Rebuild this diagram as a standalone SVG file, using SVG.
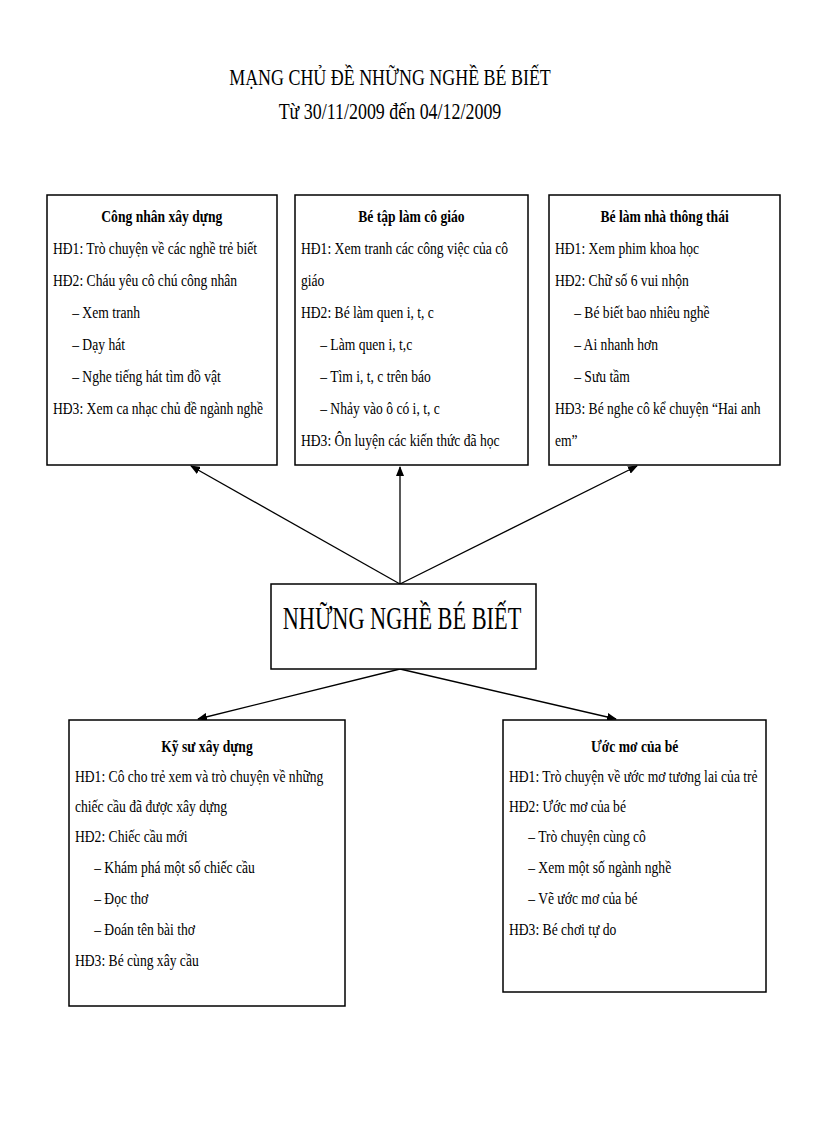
<svg xmlns="http://www.w3.org/2000/svg" width="816" height="1123" viewBox="0 0 816 1123">
<style>
text{font-family:"Liberation Serif","Times New Roman",serif;font-size:17px;fill:#000}
.t{font-weight:bold;text-anchor:middle}
.box{fill:#fff;stroke:#000;stroke-width:1.5}
.c{stroke:#000;stroke-width:1.3;fill:none;marker-end:url(#a)}
</style>
<defs><marker id="a" markerWidth="10" markerHeight="8" refX="9" refY="4" orient="auto" markerUnits="userSpaceOnUse"><path d="M0,0L10,4L0,8z" fill="#000"/></marker></defs>
<rect width="816" height="1123" fill="#fff"/>
<g id="title" transform="translate(390,0) scale(0.78,1)">
<text x="0" y="85" style="font-size:23px;text-anchor:middle">MẠNG CHỦ ĐỀ NHỮNG NGHỀ BÉ BIẾT</text>
<text x="0" y="119" style="font-size:23px;text-anchor:middle">Từ 30/11/2009 đến 04/12/2009</text>
</g>
<g id="connectors">
<path class="c" d="M400,584L191,466"/>
<path class="c" d="M400,584L400,467"/>
<path class="c" d="M400,584L637,466"/>
<path class="c" d="M400,669L198,719"/>
<path class="c" d="M400,669L616,719"/>
</g>
<g id="n1"><rect class="box" x="47" y="195" width="230" height="270"/>
<g transform="translate(53,0) scale(0.8,1)">
<text class="t" x="136" y="222">Công nhân xây dựng</text>
<text x="0" y="254">HĐ1: Trò chuyện về các nghề trẻ biết</text>
<text x="0" y="286">HĐ2: Cháu yêu cô chú công nhân</text>
<text x="24" y="318">–  Xem tranh</text>
<text x="24" y="350">–  Dạy hát</text>
<text x="24" y="382">–  Nghe tiếng hát tìm đồ vật</text>
<text x="0" y="414">HĐ3: Xem ca nhạc chủ đề ngành nghề</text>
</g></g>
<g id="n2"><rect class="box" x="295" y="195" width="233" height="270"/>
<g transform="translate(301,0) scale(0.8,1)">
<text class="t" x="138" y="222">Bé tập làm cô giáo</text>
<text x="0" y="254">HĐ1: Xem tranh các công việc của cô</text>
<text x="0" y="286">giáo</text>
<text x="0" y="318">HĐ2: Bé làm quen i, t, c</text>
<text x="24" y="350">–  Làm quen i, t,c</text>
<text x="24" y="382">–  Tìm i, t, c trên báo</text>
<text x="24" y="414">–  Nhảy vào ô có i, t, c</text>
<text x="0" y="446">HĐ3: Ôn luyện các kiến thức đã học</text>
</g></g>
<g id="n3"><rect class="box" x="549" y="195" width="231" height="270"/>
<g transform="translate(555,0) scale(0.8,1)">
<text class="t" x="137" y="222">Bé làm nhà thông thái</text>
<text x="0" y="254">HĐ1: Xem phim khoa học</text>
<text x="0" y="286">HĐ2: Chữ số 6 vui nhộn</text>
<text x="24" y="318">–  Bé biết bao nhiêu nghề</text>
<text x="24" y="350">–  Ai nhanh hơn</text>
<text x="24" y="382">–  Sưu tầm</text>
<text x="0" y="414">HĐ3: Bé nghe cô kể chuyện “Hai anh</text>
<text x="0" y="446">em”</text>
</g></g>
<g id="center"><rect class="box" x="271" y="584" width="265" height="85"/>
<g transform="translate(402,0) scale(0.72,1)"><text x="0" y="629" style="font-size:31px;text-anchor:middle">NHỮNG NGHỀ BÉ BIẾT</text></g></g>
<g id="n4"><rect class="box" x="69" y="720" width="276" height="286"/>
<g transform="translate(75,0) scale(0.8,1)">
<text class="t" x="165" y="752">Kỹ sư xây dựng</text>
<text x="0" y="782">HĐ1: Cô cho trẻ xem và trò chuyện về những</text>
<text x="0" y="812">chiếc cầu đã được xây dựng</text>
<text x="0" y="842">HĐ2: Chiếc cầu mới</text>
<text x="24" y="873">–  Khám phá một số chiếc cầu</text>
<text x="24" y="904">–  Đọc thơ</text>
<text x="24" y="935">–  Đoán tên bài thơ</text>
<text x="0" y="966">HĐ3: Bé cùng xây cầu</text>
</g></g>
<g id="n5"><rect class="box" x="503" y="720" width="263" height="272"/>
<g transform="translate(509,0) scale(0.8,1)">
<text class="t" x="157" y="752">Ước mơ của bé</text>
<text x="0" y="782">HĐ1: Trò chuyện về ước mơ tương lai  của trẻ</text>
<text x="0" y="812">HĐ2: Ước mơ của bé</text>
<text x="24" y="842">–  Trò chuyện cùng cô</text>
<text x="24" y="873">–  Xem một số ngành nghề</text>
<text x="24" y="904">–  Vẽ ước mơ của bé</text>
<text x="0" y="935">HĐ3: Bé chơi tự do</text>
</g></g>
</svg>
